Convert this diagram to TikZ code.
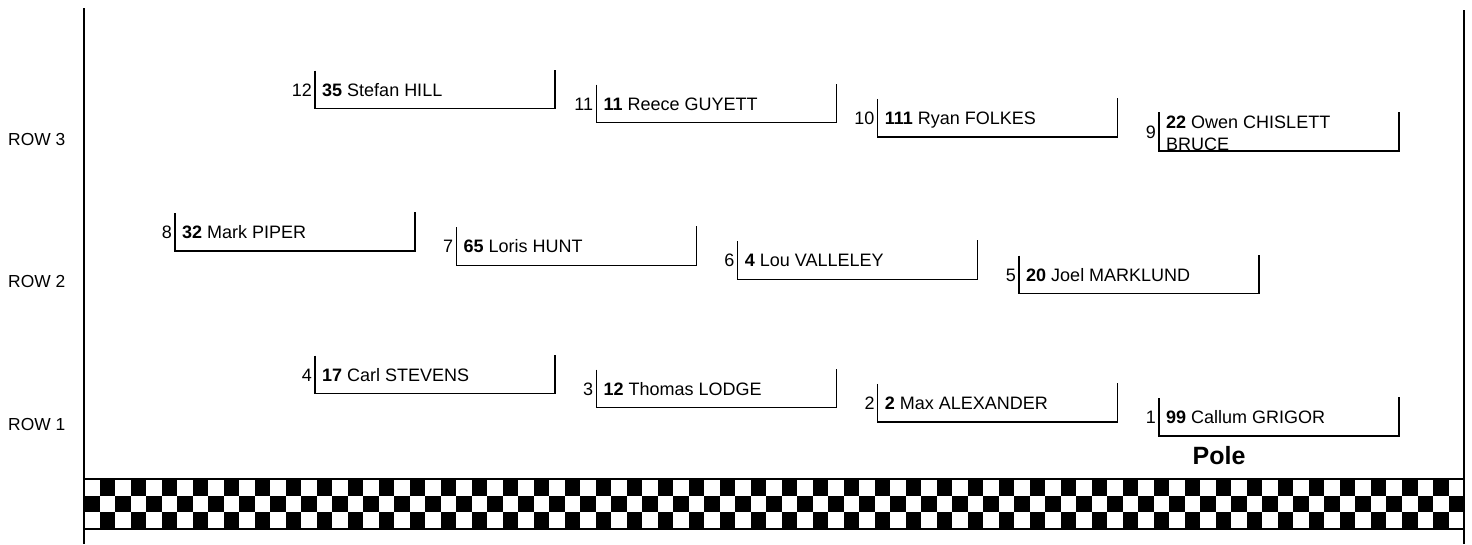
\documentclass[tikz,border=0pt]{standalone}
\usepackage{fontspec}
\setmainfont{Liberation Sans}
\begin{document}
\begin{tikzpicture}[x=1pt,y=-1pt]
\tikzset{
  slot/.style={line width=1.3pt, black},
  axis/.style={line width=1.4pt, black},
  lbl/.style={inner sep=0pt, font=\fontsize{18}{21}\selectfont},
  rowlbl/.style={inner sep=0pt, anchor=base west, font=\fontsize{17.4}{20}\selectfont},
}
\useasboundingbox (0,0) rectangle (1472,544);
\fill[white] (0,0) rectangle (1472,544);
% axes
\draw[axis] (84,8) -- (84,544);
\draw[axis] (1464,10) -- (1464,544);
% row labels
\node[rowlbl] (r3) at (8,145) {ROW 3};
\node[rowlbl] (r2) at (8,287.5) {ROW 2};
\node[rowlbl] (r1) at (8,430) {ROW 1};
% checkered band
\fill[white] (84,479) rectangle (1464,529);
\foreach \i in {1,3,...,87} {
  \fill[black] (84+\i*15.5056,479) rectangle ++(15.5056,16.667);
  \fill[black] (84+\i*15.5056,512.333) rectangle ++(15.5056,16.667);
}
\foreach \i in {0,2,...,88} {
  \fill[black] (84+\i*15.5056,495.667) rectangle ++(15.5056,16.667);
}
\draw[line width=1.4pt] (84,479) rectangle (1464,529);
% slots
\foreach \g/\x/\b/\num/\name in {12/315/108.5/35/Stefan HILL, 11/596.3/122.7/11/Reece GUYETT, 10/877.7/136.9/111/Ryan FOLKES, 8/175/251/32/Mark PIPER, 7/456.3/265.2/65/Loris HUNT, 6/737.7/279.4/4/Lou VALLELEY, 5/1019/293.6/20/Joel MARKLUND, 4/315/393.5/17/Carl STEVENS, 3/596.3/407.7/12/Thomas LODGE, 2/877.7/421.9/2/Max ALEXANDER, 1/1159/436.1/99/Callum GRIGOR} {
  \draw[slot] (\x,\b-38) -- (\x,\b) -- (\x+240,\b) -- (\x+240,\b-39);
  \node[lbl, anchor=base east] (g\g) at (\x-3,\b-12.5) {\g};
  \node[lbl, anchor=base west] (n\g) at (\x+7,\b-12.5) {\textbf{\num} \name};
}
% slot 9 (two-line name, clipped)
\begin{scope}
  \clip (1159,112) rectangle (1400,151);
  \node[lbl, anchor=base west] (n9) at (1166,128.5) {\textbf{22} Owen CHISLETT};
  \node[lbl, anchor=base west] (n9b) at (1166,150.5) {BRUCE};
\end{scope}
\node[lbl, anchor=base east] (g9) at (1156,138) {9};
\draw[slot] (1159,112.3) -- (1159,151.1) -- (1399,151.1) -- (1399,112);
% pole
\node[inner sep=0pt, anchor=base, font=\fontsize{25}{28}\selectfont\bfseries] (pole) at (1219,464) {Pole};
\end{tikzpicture}
\end{document}
